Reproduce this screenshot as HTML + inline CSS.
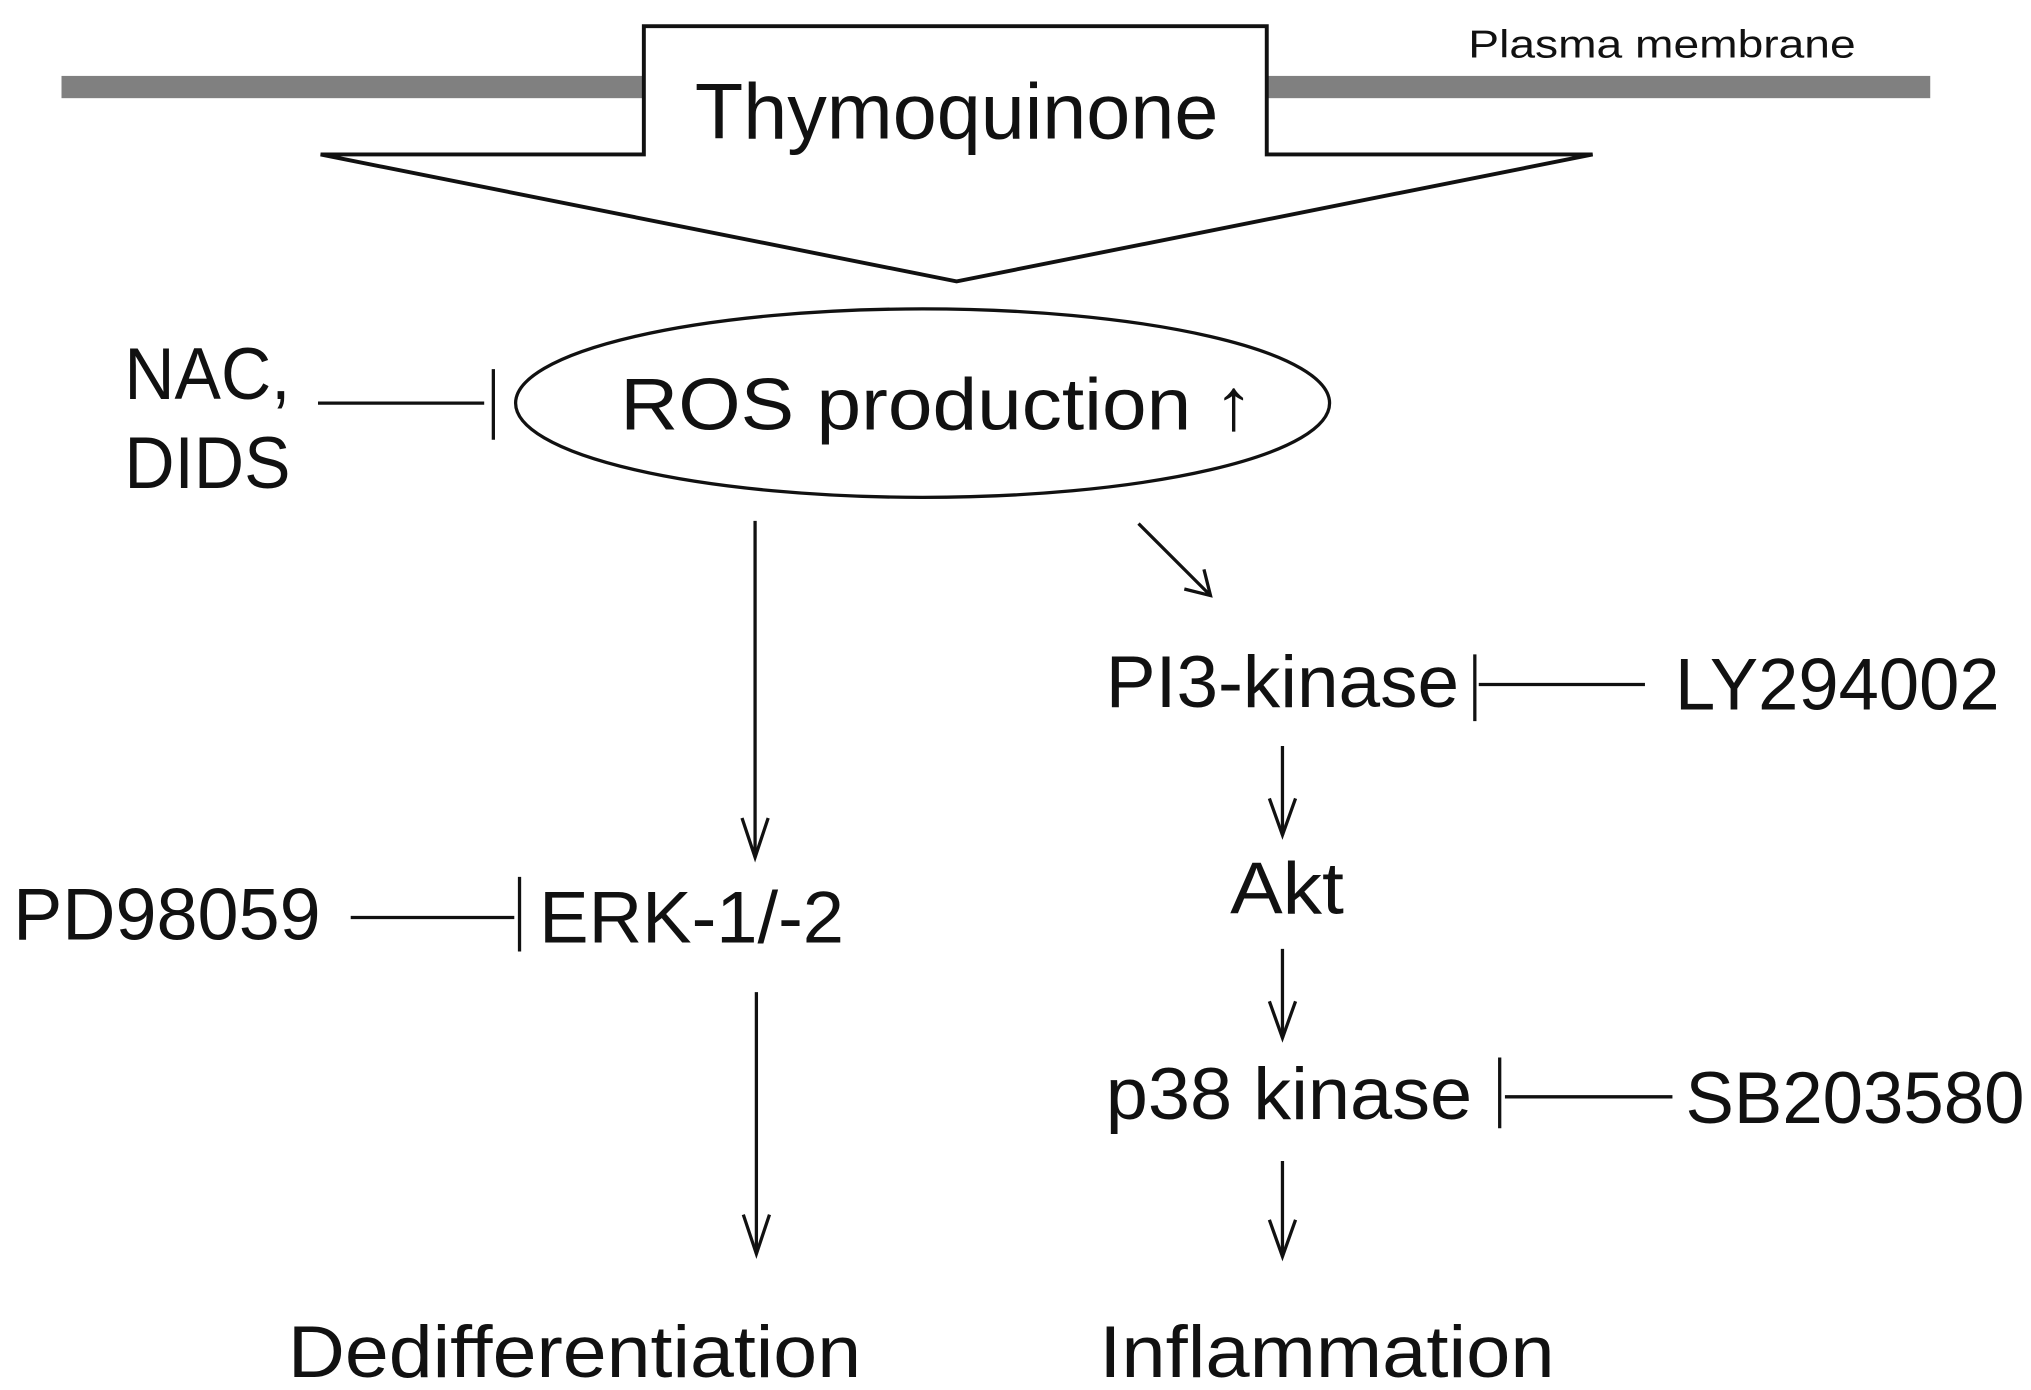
<!DOCTYPE html>
<html><head><meta charset="utf-8"><style>html,body{margin:0;padding:0;background:#fff}svg{display:block}</style></head>
<body>
<svg width="2031" height="1390" viewBox="0 0 1552 1062" preserveAspectRatio="none" xmlns="http://www.w3.org/2000/svg" font-family="Liberation Sans, sans-serif" fill="#111">
<rect x="47" y="58" width="1428" height="17" fill="#808080"/>
<polygon points="492,20 968,20 968,118 1217,118 731,215 245,118 492,118" fill="#fff" stroke="#111" stroke-width="3"/>
<text x="531" y="106" font-size="60" textLength="400" lengthAdjust="spacingAndGlyphs">Thymoquinone</text>
<text x="1122" y="44" font-size="30" textLength="296" lengthAdjust="spacingAndGlyphs">Plasma membrane</text>
<ellipse cx="705" cy="308" rx="311" ry="72" fill="none" stroke="#111" stroke-width="2.5"/>
<text x="474" y="328" font-size="56" textLength="484" lengthAdjust="spacingAndGlyphs">ROS production ↑</text>
<text x="95" y="305" font-size="56" textLength="127" lengthAdjust="spacingAndGlyphs">NAC,</text>
<text x="95" y="373" font-size="56" textLength="127" lengthAdjust="spacingAndGlyphs">DIDS</text>
<g stroke="#111" stroke-width="2.5" fill="none">
<line x1="243" y1="308" x2="370" y2="308"/><line x1="377" y1="282" x2="377" y2="336"/>
<line x1="577" y1="398" x2="577" y2="655"/><polyline points="567,625 577,655 587,625"/>
<line x1="870" y1="400" x2="925" y2="455"/><polyline points="905,450 925,455 920,435"/>
<line x1="1127" y1="500" x2="1127" y2="551"/><line x1="1130" y1="523" x2="1257" y2="523"/>
<line x1="980" y1="570" x2="980" y2="638"/><polyline points="970,610 980,638 990,610"/>
<line x1="268" y1="701" x2="393" y2="701"/><line x1="397" y1="670" x2="397" y2="727"/>
<line x1="578" y1="758" x2="578" y2="958"/><polyline points="568,928 578,958 588,928"/>
<line x1="980" y1="725" x2="980" y2="793"/><polyline points="970,765 980,793 990,765"/>
<line x1="1146" y1="808" x2="1146" y2="862"/><line x1="1150" y1="838" x2="1278" y2="838"/>
<line x1="980" y1="887" x2="980" y2="960"/><polyline points="970,932 980,960 990,932"/>
</g>
<text x="845" y="540" font-size="56" textLength="270" lengthAdjust="spacingAndGlyphs">PI3-kinase</text>
<text x="1280" y="542" font-size="56" textLength="248" lengthAdjust="spacingAndGlyphs">LY294002</text>
<text x="940" y="698" font-size="56" textLength="87" lengthAdjust="spacingAndGlyphs">Akt</text>
<text x="10" y="718" font-size="56" textLength="235" lengthAdjust="spacingAndGlyphs">PD98059</text>
<text x="412" y="720" font-size="56" textLength="233" lengthAdjust="spacingAndGlyphs">ERK-1/-2</text>
<text x="845" y="855" font-size="56" textLength="280" lengthAdjust="spacingAndGlyphs">p38 kinase</text>
<text x="1288" y="858" font-size="56" textLength="259" lengthAdjust="spacingAndGlyphs">SB203580</text>
<text x="220" y="1052" font-size="56" textLength="438" lengthAdjust="spacingAndGlyphs">Dedifferentiation</text>
<text x="840" y="1052" font-size="56" textLength="348" lengthAdjust="spacingAndGlyphs">Inflammation</text>
</svg>
</body></html>
